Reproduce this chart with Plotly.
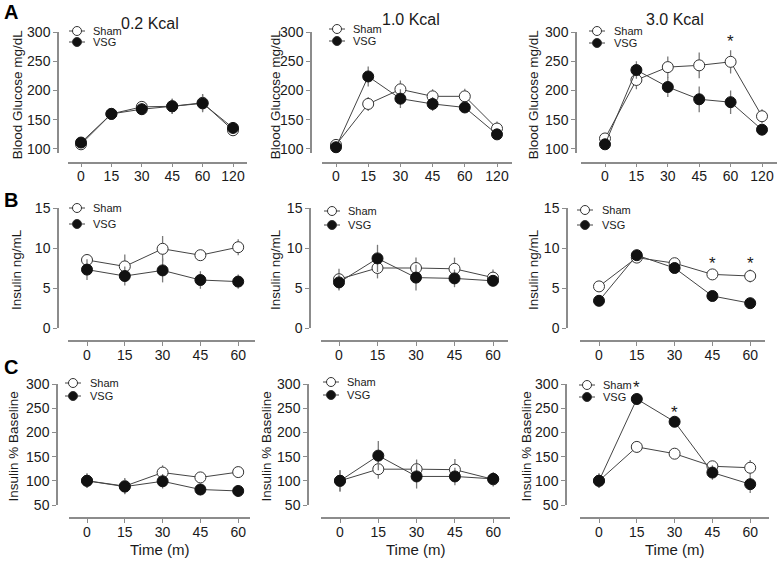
import plotly.graph_objects as go

W, H = 777, 561

# ---------------- data ----------------
glc_times = ["0", "15", "30", "45", "60", "120"]
ins_times = ["0", "15", "30", "45", "60"]

# Row A: blood glucose (mg/dL)
glc_sham_02 = [108, 160, 172, 173, 179, 132]
glc_sham_02_err = [5, 8, 10, 13, 15, 10]
glc_vsg_02 = [111, 160, 168, 173, 178, 136]
glc_vsg_02_err = [5, 8, 10, 13, 15, 9]

glc_sham_10 = [107, 177, 202, 190, 190, 135]
glc_sham_10_err = [4, 12, 15, 12, 13, 12]
glc_vsg_10 = [103, 224, 186, 177, 171, 125]
glc_vsg_10_err = [4, 17, 16, 12, 8, 5]

glc_sham_30 = [118, 218, 240, 243, 249, 156]
glc_sham_30_err = [4, 16, 18, 22, 20, 12]
glc_vsg_30 = [108, 235, 206, 185, 180, 133]
glc_vsg_30_err = [4, 15, 17, 22, 20, 8]

# Row B: insulin (ng/mL)
ins_sham_02 = [8.5, 7.7, 9.9, 9.1, 10.1]
ins_sham_02_err = [0.7, 1.5, 1.6, 0.5, 1.0]
ins_vsg_02 = [7.3, 6.5, 7.2, 6.0, 5.8]
ins_vsg_02_err = [1.3, 1.2, 1.5, 1.1, 0.9]

ins_sham_10 = [6.1, 7.5, 7.5, 7.4, 6.3]
ins_sham_10_err = [1.3, 1.3, 1.3, 1.4, 1.0]
ins_vsg_10 = [5.7, 8.7, 6.3, 6.2, 5.9]
ins_vsg_10_err = [1.0, 1.7, 1.6, 1.1, 0.5]

ins_sham_30 = [5.2, 8.8, 8.1, 6.7, 6.5]
ins_sham_30_err = [0.4, 0.4, 0.3, 0.4, 0.8]
ins_vsg_30 = [3.4, 9.1, 7.5, 4.0, 3.1]
ins_vsg_30_err = [0.3, 0.3, 0.3, 0.3, 0.4]

# Row C: insulin % baseline
pct_sham_02 = [100, 89, 117, 107, 118]
pct_sham_02_err = [15, 17, 15, 8, 10]
pct_vsg_02 = [100, 88, 99, 82, 79]
pct_vsg_02_err = [15, 15, 15, 12, 12]

pct_sham_10 = [100, 124, 124, 123, 103]
pct_sham_10_err = [22, 20, 20, 22, 15]
pct_vsg_10 = [100, 152, 109, 109, 104]
pct_vsg_10_err = [22, 30, 25, 18, 10]

pct_sham_30 = [100, 170, 156, 130, 127]
pct_sham_30_err = [15, 12, 5, 8, 16]
pct_vsg_30 = [100, 269, 222, 117, 93]
pct_vsg_30_err = [15, 12, 5, 15, 18]

titles = ["0.2 Kcal", "1.0 Kcal", "3.0 Kcal"]
row_ylabels = ["Blood Glucose mg/dL", "Insulin ng/mL", "Insulin % Baseline"]
yticks_A = [100, 150, 200, 250, 300]
yticks_B = [0, 5, 10, 15]
yticks_C = [50, 100, 150, 200, 250, 300]

# significance marks: (panel number 1..9, category index, y value)
stars = [(3, 4, 283), (6, 3, 8.1), (6, 4, 8.1), (9, 1, 293), (9, 2, 241)]

# ---------------- geometry (pixels) ----------------
rows = [
    dict(yr=[94, 300], ytop=32, ybot=152.5, xline=162.5, ticks=yticks_A),
    dict(yr=[0, 15], ytop=208, ybot=328, xline=341, ticks=yticks_B),
    dict(yr=[50, 300], ytop=384, ybot=505, xline=518, ticks=yticks_C),
]
cols = [
    [dict(yx=58, xs=[68, 247], c0=81, sp=30.4),
     dict(yx=311, xs=[322, 512], c0=336, sp=32.2),
     dict(yx=576, xs=[581, 777], c0=605, sp=31.4)],
    [dict(yx=58, xs=[68, 255], c0=87, sp=37.8),
     dict(yx=310, xs=[321, 508], c0=339, sp=38.5),
     dict(yx=567, xs=[580, 765], c0=599, sp=37.8)],
    [dict(yx=57, xs=[69, 250], c0=87, sp=37.8),
     dict(yx=308, xs=[321, 510], c0=340, sp=38.3),
     dict(yx=566, xs=[580, 769], c0=599, sp=37.8)],
]

series = [
    [(glc_sham_02, glc_sham_02_err, glc_vsg_02, glc_vsg_02_err),
     (glc_sham_10, glc_sham_10_err, glc_vsg_10, glc_vsg_10_err),
     (glc_sham_30, glc_sham_30_err, glc_vsg_30, glc_vsg_30_err)],
    [(ins_sham_02, ins_sham_02_err, ins_vsg_02, ins_vsg_02_err),
     (ins_sham_10, ins_sham_10_err, ins_vsg_10, ins_vsg_10_err),
     (ins_sham_30, ins_sham_30_err, ins_vsg_30, ins_vsg_30_err)],
    [(pct_sham_02, pct_sham_02_err, pct_vsg_02, pct_vsg_02_err),
     (pct_sham_10, pct_sham_10_err, pct_vsg_10, pct_vsg_10_err),
     (pct_sham_30, pct_sham_30_err, pct_vsg_30, pct_vsg_30_err)],
]

legpos = [
    [(77, 31, 42, 91), (337, 29, 41, 351), (597, 31, 43, 612)],
    [(77, 208, 224, 91), (332, 211, 225, 346), (585, 210, 225, 600)],
    [(73, 383, 396, 88), (331, 382, 395, 345), (587, 385, 397, 601)],
]
ylab_x = [[17, 275, 533], [16, 275, 533], [13, 266, 526]]
title_pos = [(150, 23), (411, 20), (675, 20)]

FONT = "Liberation Sans, Arial, sans-serif"
AXC = "#8c8c8c"
TXT = "#1a1a1a"

fig = go.Figure()
layout = dict(width=W, height=H, margin=dict(l=0, r=0, t=0, b=0, autoexpand=False),
              paper_bgcolor="white", plot_bgcolor="white", showlegend=False,
              font=dict(family=FONT, color=TXT))
shapes, annos = [], []


def px(x):
    return x / W


def py(y):
    return (H - y) / H


k = 0
for r in range(3):
    R = rows[r]
    for c in range(3):
        k += 1
        C = cols[r][c]
        xn = "x" if k == 1 else f"x{k}"
        yn = "y" if k == 1 else f"y{k}"
        xk = "xaxis" if k == 1 else f"xaxis{k}"
        yk = "yaxis" if k == 1 else f"yaxis{k}"
        cats = glc_times if r == 0 else ins_times
        n = len(cats)
        xr = [(C["xs"][0] - C["c0"]) / C["sp"], (C["xs"][1] - C["c0"]) / C["sp"]]
        layout[xk] = dict(domain=[px(C["xs"][0]), px(C["xs"][1])], range=xr,
                          anchor="free", position=py(R["xline"]),
                          showline=True, linecolor=AXC, linewidth=1.5,
                          ticks="outside", ticklen=4, tickwidth=1.2, tickcolor=AXC,
                          ticklabelstandoff=-3,
                          tickvals=list(range(n)), ticktext=cats,
                          tickfont=dict(size=14, color=TXT, family=FONT),
                          showgrid=False, zeroline=False, fixedrange=True)
        layout[yk] = dict(domain=[py(R["ybot"]), py(R["ytop"])], range=R["yr"],
                          anchor="free", position=px(C["yx"]),
                          showline=True, linecolor=AXC, linewidth=1.5,
                          ticks="outside", ticklen=4, tickwidth=1.2, tickcolor=AXC,
                          tickvals=R["ticks"], ticktext=[str(t) for t in R["ticks"]],
                          tickfont=dict(size=14, color=TXT, family=FONT),
                          showgrid=False, zeroline=False, fixedrange=True)
        s, se, v, ve = series[r][c]
        xs = list(range(n))
        fig.add_trace(go.Scatter(x=xs, y=s, xaxis=xn, yaxis=yn, mode="lines+markers",
                                 name="Sham", cliponaxis=False,
                                 line=dict(color="#444", width=1),
                                 marker=dict(symbol="circle", size=11, color="white",
                                             line=dict(color="#333", width=1)),
                                 error_y=dict(type="data", array=se, color="#7a7a7a",
                                              thickness=1.3, width=0)))
        fig.add_trace(go.Scatter(x=xs, y=v, xaxis=xn, yaxis=yn, mode="lines+markers",
                                 name="VSG", cliponaxis=False,
                                 line=dict(color="#444", width=1),
                                 marker=dict(symbol="circle", size=11, color="#111",
                                             line=dict(color="#111", width=1)),
                                 error_y=dict(type="data", array=ve, color="#7a7a7a",
                                              thickness=1.3, width=0)))
        # legend glyphs
        mx, sy, vy, tx = legpos[r][c]
        for yy, fill in ((sy, "white"), (vy, "#111")):
            shapes.append(dict(type="line", xref="paper", yref="paper",
                               x0=px(mx - 8), x1=px(mx + 8), y0=py(yy), y1=py(yy),
                               line=dict(color="#444", width=1)))
            shapes.append(dict(type="circle", xref="paper", yref="paper",
                               x0=px(mx - 4.5), x1=px(mx + 4.5), y0=py(yy + 4.5), y1=py(yy - 4.5),
                               fillcolor=fill, line=dict(color="#333", width=1)))
        annos.append(dict(x=px(tx), y=py(sy), xref="paper", yref="paper", text="Sham",
                          showarrow=False, xanchor="left", yanchor="middle",
                          font=dict(size=11, color=TXT)))
        annos.append(dict(x=px(tx), y=py(vy), xref="paper", yref="paper", text="VSG",
                          showarrow=False, xanchor="left", yanchor="middle",
                          font=dict(size=11, color=TXT)))
        # y-axis label
        annos.append(dict(x=px(ylab_x[r][c]), y=py((R["ytop"] + R["ybot"]) / 2 + 2),
                          xref="paper", yref="paper", text=row_ylabels[r], textangle=-90,
                          showarrow=False, xanchor="center", yanchor="middle",
                          font=dict(size=13.5, color=TXT)))
        if r == 0:
            tx_, ty_ = title_pos[c]
            annos.append(dict(x=px(tx_), y=py(ty_), xref="paper", yref="paper",
                              text=titles[c], showarrow=False, xanchor="center",
                              yanchor="middle", font=dict(size=16, color=TXT)))
        if r == 2:
            annos.append(dict(x=px((C["xs"][0] + C["xs"][1]) / 2), y=py(549), xref="paper",
                              yref="paper", text="Time (m)", showarrow=False,
                              xanchor="center", yanchor="middle",
                              font=dict(size=15, color=TXT)))

for (pk, ci, yv) in stars:
    xn = "x" if pk == 1 else f"x{pk}"
    yn = "y" if pk == 1 else f"y{pk}"
    annos.append(dict(x=ci, y=yv, xref=xn, yref=yn, text="*", showarrow=False,
                      xanchor="center", yanchor="middle",
                      font=dict(size=17, color=TXT)))

for letter, yy in (("A", 12), ("B", 200), ("C", 367)):
    annos.append(dict(x=px(2), y=py(yy), xref="paper", yref="paper",
                      text=f"<b>{letter}</b>", showarrow=False, xanchor="left",
                      yanchor="middle", font=dict(size=20, color="#000")))

layout["shapes"] = shapes
layout["annotations"] = annos
fig.update_layout(**layout)
fig.write_html("out.html", config={"displayModeBar": False},
               post_script="document.body.style.margin='0';document.body.style.overflow='hidden';")
